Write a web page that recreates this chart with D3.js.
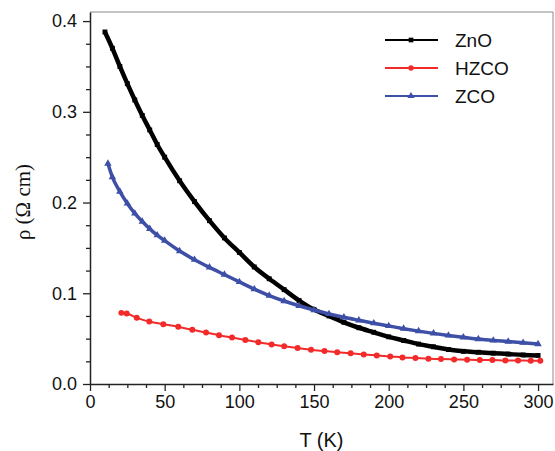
<!DOCTYPE html>
<html>
<head>
<meta charset="utf-8">
<script src="https://cdn.jsdelivr.net/npm/d3@7"></script>
<style>
  body { margin: 0; background: #fff; }
  svg text { font-family: "Liberation Sans", Arial, sans-serif; }
</style>
</head>
<body>
<div id="chart"></div>
<script>
// values
var znoT   = [10, 15, 20, 25, 30, 35, 40, 45, 50, 60, 70, 80, 90, 100, 110, 120, 130, 140, 150, 160, 170, 180, 190, 200, 210, 220, 230, 240, 250, 260, 270, 280, 290, 300];
var znoRho = [0.388, 0.370, 0.350, 0.331, 0.313, 0.296, 0.280, 0.264, 0.250, 0.224, 0.201, 0.180, 0.161, 0.145, 0.129, 0.116, 0.104, 0.092, 0.082, 0.075, 0.068, 0.062, 0.057, 0.052, 0.048, 0.044, 0.041, 0.038, 0.036, 0.035, 0.034, 0.033, 0.032, 0.0315];

var hzcoT   = [21, 24.6, 31.3, 39.7, 49.1, 59.1, 68.5, 77.7, 86.4, 95.1, 104, 112.7, 121.6, 130, 139, 148, 157, 165.5, 174.5, 183.3, 192, 201, 209.2, 217.9, 226.6, 235, 243.8, 252.5, 261, 269.4, 278.1, 286.6, 295.1, 301.5];
var hzcoRho = [0.0784, 0.0777, 0.0729, 0.0689, 0.0659, 0.0630, 0.0597, 0.0568, 0.0538, 0.0512, 0.0485, 0.0460, 0.0436, 0.0416, 0.0396, 0.0377, 0.0363, 0.0350, 0.0338, 0.0326, 0.0315, 0.0304, 0.0293, 0.0286, 0.0278, 0.0275, 0.0271, 0.0267, 0.0264, 0.0264, 0.0260, 0.0260, 0.0256, 0.0256];

var zcoT   = [12, 15, 20, 25, 30, 35, 40, 45, 50, 60, 70, 80, 90, 100, 110, 120, 130, 140, 150, 160, 170, 180, 190, 200, 210, 220, 230, 240, 250, 260, 270, 280, 290, 300];
var zcoRho = [0.243, 0.228, 0.212, 0.199, 0.188, 0.179, 0.171, 0.164, 0.158, 0.1465, 0.137, 0.1285, 0.1205, 0.1125, 0.1045, 0.0975, 0.0915, 0.0862, 0.0815, 0.0772, 0.0735, 0.0702, 0.067, 0.064, 0.061, 0.0583, 0.0558, 0.0535, 0.0515, 0.0495, 0.048, 0.0468, 0.0455, 0.044];

var xTicks = [0, 50, 100, 150, 200, 250, 300];
var yTicks = [0.0, 0.1, 0.2, 0.3, 0.4];

var series = [
  {name: "ZnO",  T: znoT,  rho: znoRho,  color: "#000000", width: 4.5, marker: d3.symbolSquare,   size: 24},
  {name: "HZCO", T: hzcoT, rho: hzcoRho, color: "#f22a2a", width: 2,   marker: d3.symbolCircle,   size: 28},
  {name: "ZCO",  T: zcoT,  rho: zcoRho,  color: "#3d4fa6", width: 3.5, marker: d3.symbolTriangle, size: 24}
];

var W = 555, H = 451;
var mLeft = 90, mRight = 553, mTop = 12, mBottom = 384;

var x = d3.scaleLinear().domain([0, 310]).range([mLeft, mRight]);
var y = d3.scaleLinear().domain([0, 0.41]).range([mBottom, mTop]);

var svg = d3.select("#chart").append("svg").attr("width", W).attr("height", H);

// frame top and right
svg.append("path")
  .attr("d", "M" + mLeft + "," + mTop + "H" + mRight + "V" + mBottom)
  .attr("fill", "none").attr("stroke", "#8a8a8a").attr("stroke-width", 1);

// minor ticks
var xMinor = d3.range(0, 301, 12.5).filter(function(v){ return v % 50 !== 0; });
var yMinor = d3.range(0, 41, 2.5).map(function(v){ return v / 100; }).filter(function(v){ return Math.abs(v * 10 - Math.round(v * 10)) > 1e-6; });

svg.append("g").attr("transform", "translate(0," + mBottom + ")")
  .call(d3.axisBottom(x).tickValues(xMinor).tickSize(4).tickFormat(""))
  .call(function(g){ g.select(".domain").remove(); });
svg.append("g").attr("transform", "translate(" + mLeft + ",0)")
  .call(d3.axisLeft(y).tickValues(yMinor).tickSize(4).tickFormat(""))
  .call(function(g){ g.select(".domain").remove(); });

var xAxis = svg.append("g").attr("transform", "translate(0," + mBottom + ")")
  .call(d3.axisBottom(x).tickValues(xTicks).tickSize(7).tickSizeOuter(0).tickPadding(4));
var yAxis = svg.append("g").attr("transform", "translate(" + mLeft + ",0)")
  .call(d3.axisLeft(y).tickValues(yTicks).tickSize(7).tickSizeOuter(0).tickPadding(6).tickFormat(d3.format(".1f")));

[xAxis, yAxis].forEach(function(a){
  a.selectAll("text").style("font-size", "18px").attr("fill", "#111");
  a.select(".domain").attr("stroke", "#222").attr("stroke-width", 1.5);
});
svg.selectAll(".tick line").attr("stroke", "#222").attr("stroke-width", 1.3);

// curves
series.forEach(function(s){
  var pts = s.T.map(function(t, i){ return [t, s.rho[i]]; });
  var line = d3.line().x(function(d){ return x(d[0]); }).y(function(d){ return y(d[1]); }).curve(d3.curveMonotoneX);
  svg.append("path").datum(pts)
    .attr("d", line).attr("fill", "none")
    .attr("stroke", s.color).attr("stroke-width", s.width).attr("stroke-linejoin", "round");
  svg.append("g").selectAll("path").data(pts).enter().append("path")
    .attr("d", d3.symbol().type(s.marker).size(s.size))
    .attr("transform", function(d){ return "translate(" + x(d[0]) + "," + y(d[1]) + ")"; })
    .attr("fill", s.color);
});

// legend
var legend = svg.append("g");
series.forEach(function(s, i){
  var ly = 40 + i * 28;
  legend.append("line").attr("x1", 385).attr("x2", 438).attr("y1", ly).attr("y2", ly)
    .attr("stroke", s.color).attr("stroke-width", 2);
  legend.append("path").attr("d", d3.symbol().type(s.marker).size(22)())
    .attr("transform", "translate(411," + ly + ")").attr("fill", s.color);
  legend.append("text").attr("x", 455).attr("y", ly + 7).text(s.name)
    .style("font-size", "19px").attr("fill", "#111");
});

// axis titles
svg.append("text").attr("x", (mLeft + mRight) / 2).attr("y", 447).attr("text-anchor", "middle")
  .style("font-size", "20px").attr("fill", "#111").text("T (K)");
svg.append("text").attr("transform", "translate(30," + ((mTop + mBottom) / 2 + 4) + ") rotate(-90)")
  .attr("text-anchor", "middle").style("font-family", "'Liberation Serif', 'Times New Roman', serif")
  .style("font-size", "21px").attr("fill", "#111").text("ρ (Ω cm)");
</script>
</body>
</html>
